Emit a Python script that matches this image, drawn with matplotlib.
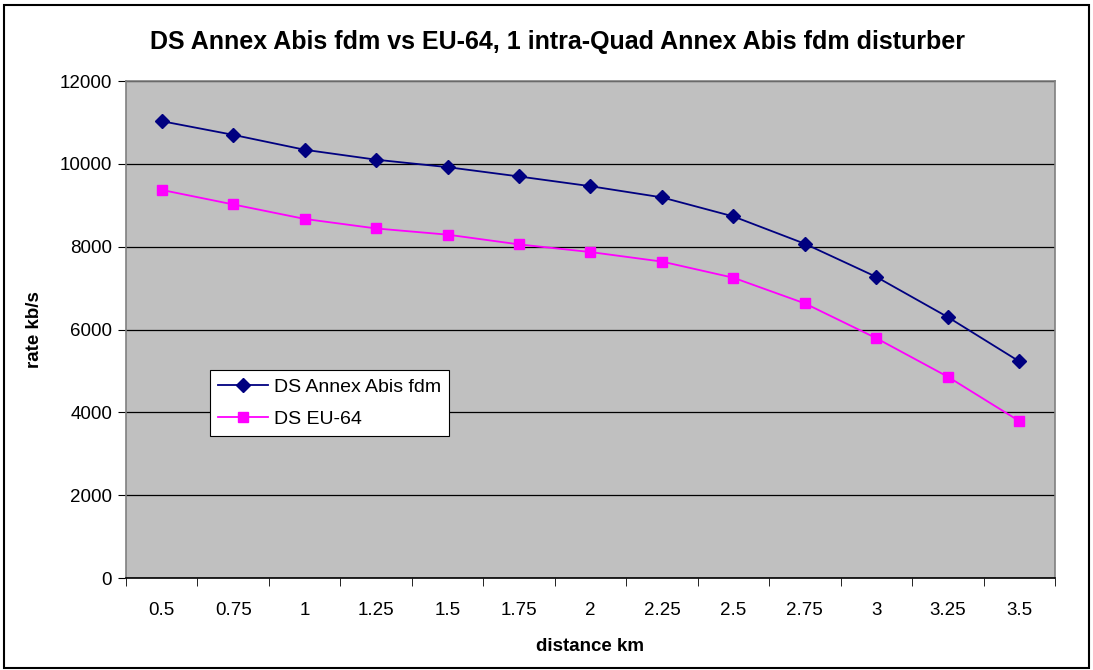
import numpy as np
import matplotlib.pyplot as plt
from matplotlib.patches import Rectangle

plt.rcParams['font.family'] = ['Liberation Sans', 'DejaVu Sans']

# distances (km) and downstream rates (kb/s)
distance_km = ['0.5', '0.75', '1', '1.25', '1.5', '1.75', '2',
               '2.25', '2.5', '2.75', '3', '3.25', '3.5']
rate_annex_abis = [11030, 10700, 10340, 10100, 9920, 9695, 9460,
                   9190, 8730, 8070, 7270, 6300, 5230]
rate_eu64 = [9370, 9020, 8670, 8440, 8290, 8055, 7870,
             7640, 7250, 6630, 5790, 4860, 3790]

fig = plt.figure(figsize=(10.93, 6.70), dpi=100)
ax = fig.add_axes([0.1153, 0.1373, 0.8499, 0.7418])
ax.set_facecolor('#C0C0C0')

x = np.arange(len(distance_km))
ax.plot(x, rate_annex_abis, color='#000080', marker='D', markersize=7,
        linewidth=1.3, label='DS Annex Abis fdm')
ax.plot(x, rate_eu64, color='#FF00FF', marker='s', markersize=7,
        linewidth=1.3, label='DS EU-64')

ax.set_xlim(-0.5, len(distance_km) - 0.5)
ax.set_ylim(0, 12000)
ax.set_yticks(range(0, 12001, 2000))
ax.yaxis.grid(True, color='black', linewidth=0.9)
ax.set_axisbelow(True)

# category labels centred, tick marks between categories
ax.set_xticks(x)
ax.set_xticklabels(distance_km)
ax.set_xticks(np.arange(-0.5, len(distance_km)), minor=True)
ax.tick_params(axis='x', which='major', length=0, pad=17, labelsize=13.5)
ax.tick_params(axis='x', which='minor', length=6, direction='out', color='black')
ax.tick_params(axis='y', length=6, direction='out', labelsize=13.5, pad=4)

for side in ['top', 'right']:
    ax.spines[side].set_color('#808080')
ax.spines['left'].set_color('#808080')
ax.spines['bottom'].set_color('black')
for s in ax.spines.values():
    s.set_linewidth(1.2)

ax.set_xlabel('distance km', fontsize=13.5, fontweight='bold', labelpad=14)
ax.set_ylabel('rate kb/s', fontsize=13.5, fontweight='bold', labelpad=12)
fig.text(0.5105, 0.937,
         'DS Annex Abis fdm vs EU-64, 1 intra-Quad Annex Abis fdm disturber',
         fontsize=18, fontweight='bold', ha='center', va='center')

leg = ax.legend(loc='upper left', bbox_to_anchor=(0.0904, 0.418), fontsize=14,
                frameon=True, fancybox=False, framealpha=1, edgecolor='black',
                borderpad=0.4, handlelength=2.6, labelspacing=0.75,
                handletextpad=0.3, borderaxespad=0)
leg.get_frame().set_linewidth(0.8)

# outer chart border
fig.patches.append(Rectangle((0.004, 0.003), 0.992, 0.990, transform=fig.transFigure,
                             fill=False, edgecolor='black', linewidth=1.5))

fig.savefig('out.png', dpi=100)
